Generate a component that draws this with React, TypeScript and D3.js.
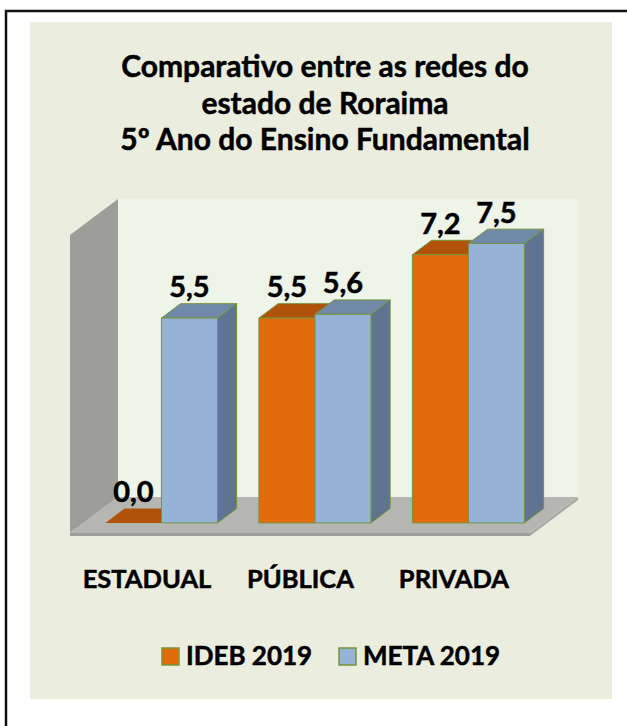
import React from 'react';
import * as d3 from 'd3';

const categories = ['ESTADUAL', 'PÚBLICA', 'PRIVADA'];
const seriesNames = ['IDEB 2019', 'META 2019'];
const ideb2019 = [0.0, 5.5, 7.2];
const meta2019 = [5.5, 5.6, 7.5];
const titleLines = ['Comparativo entre as redes do', 'estado de Roraima', '5º Ano do Ensino Fundamental'];
const yMax = 8;

const W = 627, H = 726;
const FONT = "Lato, 'Open Sans', sans-serif";

const floorFrontY = 533;
const floorX0 = 70, floorX1 = 530;
const DX = 48, DY = 36;
const zF = 0.28, zB = 0.68;

const colors = {
  ideb: { front: '#E36C0A', top: '#B0520A', side: '#9E4A08' },
  meta: { front: '#95B3D7', top: '#7089A8', side: '#5F7490' },
};
const outline = '#77933C';
const heavy = { stroke: '#000', strokeWidth: 0.5 };

const x = d3.scaleBand<string>().domain(categories).range([92, 511]).paddingInner(0.27).paddingOuter(0);
const xs = d3.scaleBand<string>().domain(seriesNames).range([0, x.bandwidth()]).padding(0);
const h = d3.scaleLinear().domain([0, yMax]).range([0, 298]);

const proj = (px: number, val: number, z: number): [number, number] => [px + z * DX, floorFrontY - z * DY - h(val)];
const poly = (pts: [number, number][]) => pts.map(p => p.join(',')).join(' ');
const fmt = (v: number) => d3.format('.1f')(v).replace('.', ',');

export default function App() {
  const bars: any[] = [];
  categories.forEach((c, i) => {
    [ideb2019[i], meta2019[i]].forEach((v, j) => {
      const s = seriesNames[j];
      const col = j === 0 ? colors.ideb : colors.meta;
      const x0 = (x(c) as number) + (xs(s) as number);
      const x1 = x0 + xs.bandwidth();
      const front = [proj(x0, 0, zF), proj(x1, 0, zF), proj(x1, v, zF), proj(x0, v, zF)];
      const top = [proj(x0, v, zF), proj(x1, v, zF), proj(x1, v, zB), proj(x0, v, zB)];
      const side = [proj(x1, 0, zF), proj(x1, 0, zB), proj(x1, v, zB), proj(x1, v, zF)];
      const ft = proj((x0 + x1) / 2, v, zF);
      bars.push(
        <g key={c + s}>
          {v > 0 && <polygon points={poly(side)} fill={col.side} stroke={outline} strokeWidth={1} strokeLinejoin="round" />}
          <polygon points={poly(top)} fill={col.top} stroke={v > 0 ? outline : 'none'} strokeWidth={1} strokeLinejoin="round" />
          {v > 0 && <polygon points={poly(front)} fill={col.front} stroke={outline} strokeWidth={1} strokeLinejoin="round" />}
          <text x={ft[0]} y={ft[1] - 21} textAnchor="middle" fontFamily={FONT} fontWeight="bold" fontSize={29} fill="#000" {...heavy}>{fmt(v)}</text>
        </g>
      );
    });
  });

  const wallBackBL = proj(floorX0, 0, 1);
  const wallBackTR = proj(floorX1, yMax, 1);

  return (
    <svg width={W} height={H} style={{ position: 'absolute', left: 0, top: 0 }}>
      <rect x={0} y={0} width={W} height={H} fill="#fff" />
      <rect x={6} y={11} width={W + 20} height={H + 20} fill="none" stroke="#111" strokeWidth={2.5} />
      <rect x={30} y={22} width={582} height={677} fill="#EBEEDF" />
      {titleLines.map((t, i) => (
        <text key={i} x={325} y={77 + i * 36.5} textAnchor="middle" fontFamily={FONT} fontWeight="bold" fontSize={30} fill="#000" {...heavy}>{t}</text>
      ))}
      <rect x={wallBackBL[0]} y={wallBackTR[1]} width={wallBackTR[0] - wallBackBL[0]} height={wallBackBL[1] - wallBackTR[1]} fill="#EFF4E9" />
      <polygon points={poly([proj(floorX0, 0, 0), proj(floorX0, yMax, 0), proj(floorX0, yMax, 1), proj(floorX0, 0, 1)])} fill="#9D9E99" />
      <polygon points={poly([proj(floorX0, 0, 0), proj(floorX1, 0, 0), proj(floorX1, 0, 1), proj(floorX0, 0, 1)])} fill="#B5B6B1" />
      <polygon points={poly([proj(floorX0, 0, 0), proj(floorX1, 0, 0), [floorX1, floorFrontY + 3], [floorX0, floorFrontY + 3]])} fill="#9C9D99" />
      <polygon points={poly([proj(floorX1, 0, 0), proj(floorX1, 0, 1), [floorX1 + DX, floorFrontY - DY + 3], [floorX1, floorFrontY + 3]])} fill="#A8A9A4" />
      {bars}
      {categories.map(c => (
        <text key={c} x={(x(c) as number) + x.bandwidth() / 2 - 1} y={588} textAnchor="middle" fontFamily={FONT} fontWeight="bold" fontSize={25.5} fill="#000" {...heavy}>{c}</text>
      ))}
      {seriesNames.map((s, j) => {
        const lx = j === 0 ? 162 : 339;
        const col = j === 0 ? colors.ideb : colors.meta;
        return (
          <g key={s}>
            <rect x={lx} y={648} width={17} height={17} fill={col.front} stroke={outline} strokeWidth={1.5} />
            <text x={lx + 24} y={665} fontFamily={FONT} fontWeight="bold" fontSize={26} fill="#000" {...heavy}>{s}</text>
          </g>
        );
      })}
    </svg>
  );
}
